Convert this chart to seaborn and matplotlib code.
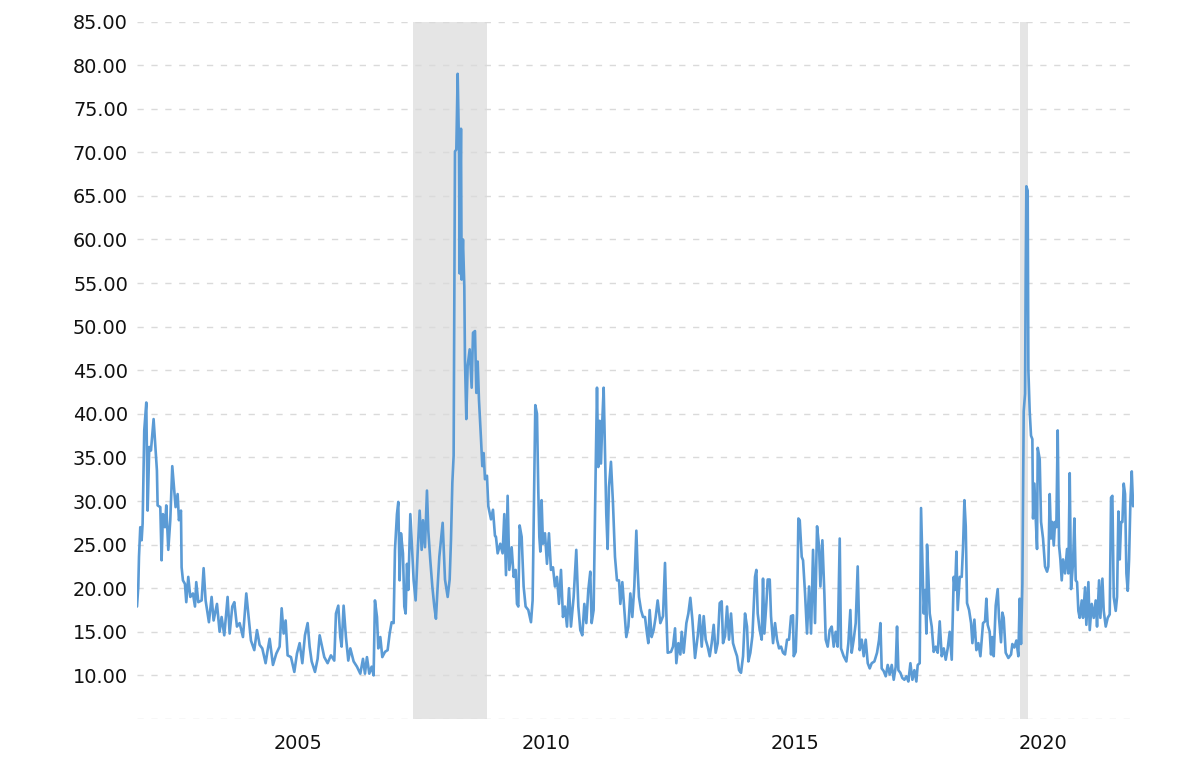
import numpy as np
import matplotlib
matplotlib.use("Agg")
import matplotlib.pyplot as plt
import seaborn as sns
from matplotlib.ticker import FuncFormatter

# ===== DATA (decimal years as placed on the chart) =====

years = [
    # 2001 - 2005
    2001.760, 2001.786, 2001.800, 2001.826, 2001.853, 2001.873, 2001.906, 2001.947, 2001.974, 2002.007,
    2002.041, 2002.094, 2002.121, 2002.161, 2002.175, 2002.229, 2002.255, 2002.282, 2002.323, 2002.349,
    2002.390, 2002.430, 2002.470, 2002.510, 2002.537, 2002.578, 2002.604, 2002.645, 2002.658, 2002.685,
    2002.725, 2002.752, 2002.792, 2002.833, 2002.886, 2002.927, 2002.953, 2002.994, 2003.061, 2003.101,
    2003.141, 2003.208, 2003.262, 2003.302, 2003.370, 2003.423, 2003.463, 2003.517, 2003.584, 2003.625,
    2003.678, 2003.719, 2003.772, 2003.826, 2003.893, 2003.960, 2004.000, 2004.054, 2004.121, 2004.175,
    2004.229, 2004.282, 2004.349, 2004.390, 2004.430, 2004.497, 2004.564, 2004.631, 2004.672, 2004.712,
    2004.752, 2004.792, 2004.859, 2004.927, 2004.980, 2005.034, 2005.088, 2005.141, 2005.195, 2005.235,
    2005.276, 2005.343, 2005.396, 2005.437,
    # 2005 - 2007
    2005.530, 2005.597, 2005.664, 2005.731, 2005.765, 2005.812, 2005.852, 2005.879, 2005.919, 2005.966,
    2006.013, 2006.054, 2006.121, 2006.188, 2006.255, 2006.309, 2006.349, 2006.389, 2006.436, 2006.483,
    2006.523, 2006.550, 2006.591, 2006.617, 2006.658, 2006.698, 2006.752, 2006.805, 2006.846, 2006.886,
    2006.926, 2006.953, 2006.993, 2007.020, 2007.047, 2007.074, 2007.114, 2007.141, 2007.168, 2007.195,
    2007.221, 2007.262, 2007.302, 2007.329, 2007.369, 2007.409, 2007.450, 2007.490, 2007.517, 2007.557,
    2007.597, 2007.624, 2007.664, 2007.705, 2007.745, 2007.778, 2007.812, 2007.846,
    # crisis
    2007.913, 2007.960, 2008.014, 2008.054, 2008.081, 2008.108, 2008.134, 2008.161, 2008.188, 2008.215,
    2008.242, 2008.255, 2008.282, 2008.295, 2008.322, 2008.349, 2008.362, 2008.389, 2008.416, 2008.457,
    2008.497, 2008.524, 2008.564, 2008.591, 2008.618, 2008.644, 2008.685, 2008.711, 2008.738, 2008.765,
    2008.805, 2008.832, 2008.886, 2008.926, 2008.966,
    # 2009 - 2012
    2008.986, 2009.020, 2009.073, 2009.120, 2009.154, 2009.188, 2009.221, 2009.255, 2009.302, 2009.342,
    2009.382, 2009.409, 2009.436, 2009.463, 2009.503, 2009.543, 2009.583, 2009.637, 2009.691, 2009.724,
    2009.758, 2009.778, 2009.812, 2009.838, 2009.859, 2009.879, 2009.905, 2009.932, 2009.973, 2010.013,
    2010.053, 2010.093, 2010.134, 2010.174, 2010.214, 2010.255, 2010.295, 2010.335, 2010.375, 2010.416,
    2010.456, 2010.496, 2010.550, 2010.603, 2010.644, 2010.684, 2010.724, 2010.765, 2010.805, 2010.845,
    2010.885, 2010.912, 2010.952, 2010.993, 2011.020, 2011.046, 2011.073, 2011.100, 2011.127, 2011.154,
    2011.181, 2011.207, 2011.234, 2011.261, 2011.301, 2011.342, 2011.382, 2011.422, 2011.463, 2011.490,
    2011.530, 2011.570, 2011.610, 2011.651, 2011.691, 2011.731, 2011.771, 2011.812, 2011.838, 2011.865,
    2011.906, 2011.946, 2011.986, 2012.026, 2012.053, 2012.080, 2012.120, 2012.160, 2012.201, 2012.241,
    2012.295,
    # 2012 - 2015
    2012.349, 2012.389, 2012.416, 2012.443, 2012.510, 2012.550, 2012.591, 2012.617, 2012.658, 2012.698,
    2012.725, 2012.765, 2012.819, 2012.859, 2012.899, 2012.940, 2012.993, 2013.047, 2013.087, 2013.128,
    2013.168, 2013.208, 2013.248, 2013.289, 2013.329, 2013.369, 2013.409, 2013.450, 2013.490, 2013.530,
    2013.557, 2013.597, 2013.638, 2013.678, 2013.718, 2013.758, 2013.799, 2013.839, 2013.879, 2013.919,
    2013.960, 2014.000, 2014.040, 2014.067, 2014.107, 2014.148, 2014.174, 2014.201, 2014.228, 2014.255,
    2014.295, 2014.336, 2014.362, 2014.389, 2014.430, 2014.456, 2014.497, 2014.523, 2014.564, 2014.604,
    2014.644, 2014.685, 2014.725, 2014.765, 2014.805, 2014.846, 2014.886, 2014.926, 2014.966, 2014.980,
    2015.020, 2015.047, 2015.074, 2015.101, 2015.141, 2015.168, 2015.208, 2015.248, 2015.289, 2015.329,
    2015.369, 2015.409, 2015.450, 2015.490, 2015.517,
    # 2015 - 2018
    2015.557, 2015.597, 2015.624, 2015.664, 2015.704, 2015.745, 2015.785, 2015.825, 2015.865, 2015.906,
    2015.932, 2015.986, 2016.040, 2016.080, 2016.120, 2016.147, 2016.187, 2016.228, 2016.268, 2016.308,
    2016.349, 2016.389, 2016.429, 2016.470, 2016.510, 2016.550, 2016.604, 2016.657, 2016.698, 2016.725,
    2016.751, 2016.791, 2016.832, 2016.872, 2016.912, 2016.953, 2016.993, 2017.033, 2017.060, 2017.087,
    2017.127, 2017.167, 2017.208, 2017.248, 2017.288, 2017.329, 2017.369, 2017.409, 2017.449, 2017.476,
    2017.516, 2017.543, 2017.570, 2017.597, 2017.624, 2017.651, 2017.664, 2017.691, 2017.718, 2017.758,
    2017.798, 2017.839, 2017.879, 2017.919, 2017.959, 2018.000, 2018.040, 2018.080, 2018.120, 2018.161,
    2018.201, 2018.228, 2018.255, 2018.281, 2018.322, 2018.362, 2018.389, 2018.416, 2018.443, 2018.469,
    2018.510, 2018.550, 2018.577, 2018.617, 2018.657, 2018.698, 2018.738,
    # 2018 - 2021
    2018.791, 2018.831, 2018.858, 2018.885, 2018.925, 2018.952, 2018.979, 2019.006, 2019.046, 2019.086,
    2019.113, 2019.153, 2019.180, 2019.207, 2019.247, 2019.301, 2019.355, 2019.381, 2019.422, 2019.462,
    2019.502, 2019.529, 2019.556, 2019.583, 2019.610, 2019.637, 2019.650, 2019.663, 2019.690, 2019.704,
    2019.730, 2019.757, 2019.784, 2019.798, 2019.825, 2019.852, 2019.878, 2019.892, 2019.932, 2019.959,
    2019.999, 2020.039, 2020.080, 2020.106, 2020.133, 2020.160, 2020.187, 2020.214, 2020.241, 2020.267,
    2020.294, 2020.321, 2020.348, 2020.375, 2020.402, 2020.442, 2020.482, 2020.509, 2020.536, 2020.563,
    2020.603, 2020.630, 2020.657, 2020.684, 2020.710, 2020.737, 2020.778, 2020.804, 2020.845, 2020.871,
    2020.912, 2020.939, 2020.979, 2021.019, 2021.059, 2021.086, 2021.127, 2021.153, 2021.194, 2021.221,
    2021.261, 2021.301, 2021.341, 2021.368, 2021.395, 2021.422, 2021.462, 2021.489, 2021.516, 2021.543,
    2021.570, 2021.597, 2021.623, 2021.650, 2021.677, 2021.704, 2021.731, 2021.758, 2021.785, 2021.812,
]

vix = [
    # 2001 - 2005
    17.9, 20.2, 23.6, 27.0, 25.5, 27.4, 38.1, 41.3, 28.9, 36.2,
    35.8, 39.4, 37.0, 33.5, 29.5, 29.3, 23.2, 28.5, 27.0, 29.5,
    24.4, 27.8, 34.0, 31.2, 29.3, 30.8, 27.8, 28.9, 22.4, 20.9,
    20.5, 18.4, 21.3, 19.0, 19.4, 17.9, 20.7, 18.4, 18.6, 22.3,
    18.6, 16.1, 19.0, 16.3, 18.2, 15.0, 16.7, 14.6, 19.0, 14.8,
    17.9, 18.4, 15.6, 16.0, 14.4, 19.4, 17.1, 14.0, 12.9, 15.2,
    13.5, 13.1, 11.4, 12.9, 14.2, 11.2, 12.5, 13.3, 17.7, 14.8,
    16.3, 12.3, 12.1, 10.4, 12.5, 13.7, 11.4, 14.6, 16.0, 13.3,
    11.6, 10.4, 11.9, 14.6,
    # 2005 - 2007
    12.1, 11.4, 12.3, 11.7, 17.1, 18.0, 14.4, 13.3, 18.0, 14.4,
    11.7, 13.1, 11.6, 11.0, 10.2, 11.9, 10.2, 12.1, 10.2, 11.0,
    10.0, 18.6, 16.7, 13.1, 14.4, 12.1, 12.7, 12.9, 14.8, 16.1,
    16.0, 24.4, 28.5, 29.9, 20.9, 26.3, 24.0, 17.9, 17.1, 22.8,
    19.8, 28.5, 24.0, 20.9, 18.6, 24.0, 28.9, 24.4, 27.8, 24.7,
    31.2, 26.6, 23.2, 20.2, 17.9, 16.5, 20.2, 23.6,
    # crisis
    27.5, 21.0, 19.0, 21.0, 25.6, 32.1, 35.2, 70.1, 70.3, 79.0,
    70.6, 56.1, 72.7, 55.4, 60.0, 54.6, 46.2, 39.4, 45.5, 47.4,
    43.0, 49.3, 49.5, 42.4, 46.0, 41.6, 37.1, 34.0, 35.5, 32.5,
    32.9, 29.4, 27.9, 29.0, 26.0,
    # 2009 - 2012
    25.9, 24.0, 25.1, 24.0, 28.5, 21.5, 30.6, 22.1, 24.7, 21.3,
    22.1, 18.2, 17.9, 27.2, 25.9, 20.2, 17.9, 17.5, 16.1, 18.6,
    32.4, 41.0, 40.0, 31.2, 25.9, 24.2, 30.1, 25.1, 26.3, 22.8,
    26.3, 22.1, 22.4, 20.2, 21.3, 18.2, 22.1, 16.7, 17.9, 15.6,
    20.0, 15.6, 19.0, 24.4, 17.9, 15.2, 14.6, 18.2, 16.0, 19.8,
    21.9, 16.0, 17.5, 33.5, 43.0, 33.9, 39.2, 34.3, 39.2, 43.0,
    35.8, 28.5, 24.5, 31.6, 34.5, 29.7, 23.6, 20.9, 20.9, 18.2,
    20.7, 17.5, 14.4, 15.6, 19.4, 16.7, 20.2, 26.6, 22.1, 19.0,
    17.5, 16.7, 16.7, 14.8, 13.7, 17.5, 14.4, 15.2, 16.7, 18.6,
    16.0,
    # 2012 - 2015
    16.8, 22.9, 17.1, 12.6, 12.7, 13.3, 15.4, 11.4, 13.7, 12.4,
    15.0, 12.6, 16.0, 17.1, 18.9, 16.4, 12.0, 14.5, 16.9, 13.3,
    16.8, 14.1, 13.3, 12.2, 13.7, 15.8, 12.6, 13.7, 18.3, 18.5,
    13.7, 14.5, 17.9, 14.1, 17.1, 13.7, 12.9, 12.2, 10.6, 10.3,
    12.2, 17.1, 15.6, 11.6, 12.6, 14.5, 17.9, 21.3, 22.1, 17.1,
    15.2, 14.1, 21.1, 14.8, 18.3, 21.0, 21.0, 16.8, 13.7, 16.0,
    14.1, 13.1, 13.3, 12.6, 12.4, 14.1, 14.1, 16.8, 16.9, 12.2,
    12.7, 17.1, 28.0, 27.8, 23.6, 23.2, 19.4, 14.8, 20.2, 14.8,
    24.4, 16.0, 27.1, 24.8, 20.2,
    # 2015 - 2018
    25.5, 19.4, 14.1, 13.3, 15.2, 15.6, 13.3, 15.0, 13.3, 25.7,
    13.1, 12.2, 11.6, 13.7, 17.5, 12.6, 14.1, 16.0, 22.5, 12.9,
    14.1, 12.2, 14.1, 11.4, 10.8, 11.4, 11.6, 12.6, 14.1, 16.0,
    10.8, 10.5, 9.9, 11.2, 10.1, 11.2, 9.5, 11.0, 15.6, 10.6,
    10.3, 9.7, 9.5, 9.9, 9.3, 11.4, 9.5, 10.6, 9.3, 11.2,
    11.4, 29.2, 22.9, 17.1, 19.8, 14.8, 25.0, 21.3, 17.1, 15.6,
    12.7, 13.3, 12.6, 16.2, 12.2, 13.1, 11.8, 13.1, 15.0, 11.8,
    21.3, 19.8, 24.2, 17.5, 21.3, 21.3, 24.8, 30.1, 27.1, 18.3,
    17.5, 16.0, 13.7, 16.4, 12.9, 13.7, 12.2,
    # 2018 - 2021
    16.0, 16.2, 18.8, 15.8, 15.0, 12.4, 14.4, 12.2, 18.0, 19.9,
    16.6, 13.8, 17.2, 16.6, 12.6, 12.0, 12.4, 13.6, 13.2, 14.0,
    12.2, 18.8, 13.6, 20.5, 40.3, 42.3, 56.1, 66.1, 65.6, 45.0,
    40.3, 37.5, 37.1, 28.0, 32.0, 28.0, 24.5, 36.1, 34.8, 27.6,
    25.7, 22.5, 21.9, 22.5, 30.8, 25.7, 27.6, 24.9, 27.6, 27.0,
    38.1, 24.9, 23.3, 20.9, 23.3, 21.7, 24.5, 21.7, 33.2, 19.9,
    22.9, 28.0, 20.9, 20.7, 17.4, 16.6, 18.6, 16.6, 20.1, 15.8,
    20.7, 15.2, 18.2, 16.6, 18.6, 15.6, 20.9, 16.6, 21.1, 17.4,
    15.6, 16.6, 17.0, 30.4, 30.6, 19.0, 17.4, 19.0, 28.8, 23.3,
    27.6, 27.6, 32.0, 30.8, 21.7, 19.7, 23.3, 30.0, 33.4, 29.4,
]

# shaded recession periods (start, end) as placed on the chart
recession_starts = [2007.32, 2019.536]
recession_ends = [2008.815, 2019.69]

x_ticks = [2005, 2010, 2015, 2020]
y_ticks = list(range(5, 90, 5))

# ===== PLOT =====

sns.set_style("white")
plt.rcParams['font.family'] = ['DejaVu Sans']

fig = plt.figure(figsize=(12, 7.57), dpi=100)
ax = fig.add_axes([137 / 1200, 1 - 719 / 757, (1133.5 - 137) / 1200, (719 - 21.5) / 757])

for start, end in zip(recession_starts, recession_ends):
    ax.axvspan(start, end, color="#e5e5e5", lw=0, zorder=0)

sns.lineplot(x=years, y=vix, ax=ax, color="#5b9bd5", linewidth=1.9,
             estimator=None, sort=False, zorder=3)

ax.set_xlim(2001.76, 2021.82)
ax.set_ylim(5, 85)
ax.set_xticks(x_ticks)
ax.set_xticklabels([str(y) for y in x_ticks])
ax.set_yticks(y_ticks)
ax.yaxis.set_major_formatter(FuncFormatter(lambda v, p: "" if v < 7 else f"{v:.2f}"))

ax.set_axisbelow(True)
ax.grid(axis="y", color="#dadada", linestyle=(0, (4.5, 5.5)), linewidth=1)
ax.grid(axis="x", visible=False)
for s in ax.spines.values():
    s.set_visible(False)

ax.tick_params(length=0, labelsize=13.9, colors="#111111")
ax.tick_params(axis="y", pad=6.5)
ax.tick_params(axis="x", pad=11)
ax.set_xlabel("")
ax.set_ylabel("")

fig.savefig("out.png", dpi=100)
